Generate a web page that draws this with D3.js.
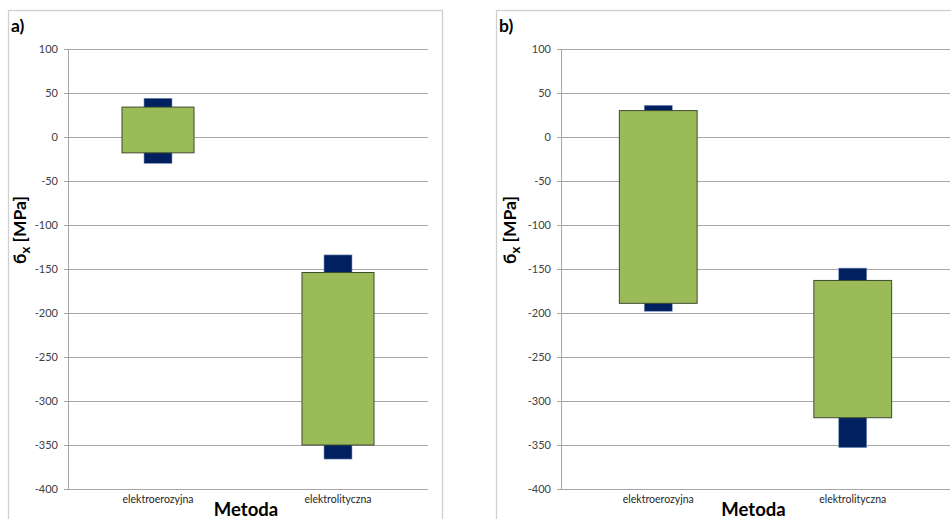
<!DOCTYPE html>
<html><head><meta charset="utf-8">
<script src="https://cdn.jsdelivr.net/npm/d3@7"></script>
<style>html,body{margin:0;padding:0;background:#fff;overflow:hidden}</style>
</head><body>
<svg id="c" width="951" height="519"></svg>
<script>
const categories = ["elektroerozyjna", "elektrolityczna"];
const yTicks = [100, 50, 0, -50, -100, -150, -200, -250, -300, -350, -400];
// panel a)
const aBoxLow = [-18, -350];
const aBoxHigh = [34, -154];
const aWhiskLow = [-30, -366];
const aWhiskHigh = [44, -134];
// panel b)
const bBoxLow = [-189, -319];
const bBoxHigh = [30, -163];
const bWhiskLow = [-198, -353];
const bWhiskHigh = [36, -149];

const panels = [
  {label: "a)", frame: [8, 10, 434, 530], axisX: 68, right: 428, titleX: 20,
   boxLow: aBoxLow, boxHigh: aBoxHigh, wLow: aWhiskLow, wHigh: aWhiskHigh},
  {label: "b)", frame: [496, 10, 480, 530], axisX: 561, right: 950, titleX: 510,
   boxLow: bBoxLow, boxHigh: bBoxHigh, wLow: bWhiskLow, wHigh: bWhiskHigh}
];

const svg = d3.select("#c");
const font = "Lato, 'Open Sans', sans-serif";
const y = d3.scaleLinear().domain([-400, 100]).range([489, 49]);

panels.forEach(p => {
  const g = svg.append("g");
  g.append("rect").attr("x", p.frame[0] + 0.5).attr("y", p.frame[1] + 0.5)
    .attr("width", p.frame[2]).attr("height", p.frame[3])
    .attr("fill", "#fff").attr("stroke", "#d0d0d0").attr("stroke-width", 1.3);
  g.append("text").attr("x", p.frame[0] + 3).attr("y", p.frame[1] + 22)
    .attr("font-family", font).attr("font-weight", "bold").attr("font-size", 17.5)
    .attr("fill", "#000").text(p.label);

  const x = d3.scaleBand().domain(categories).range([p.axisX, p.right]);
  const bw = x.bandwidth();

  // gridlines
  g.append("g").selectAll("line").data(yTicks).join("line")
    .attr("x1", p.axisX - 4).attr("x2", p.right)
    .attr("y1", d => Math.round(y(d)) + 0.5).attr("y2", d => Math.round(y(d)) + 0.5)
    .attr("stroke", "#a6a6a6").attr("stroke-width", 1);
  // y axis line
  g.append("line").attr("x1", p.axisX + 0.5).attr("x2", p.axisX + 0.5)
    .attr("y1", y(100)).attr("y2", y(-400) + 0.5)
    .attr("stroke", "#a6a6a6");
  // tick labels
  g.append("g").selectAll("text").data(yTicks).join("text")
    .attr("x", p.axisX - 10).attr("y", d => y(d) + 4)
    .attr("text-anchor", "end").attr("font-family", font).attr("font-size", 11)
    .attr("fill", "#404040").text(d => d);
  // category labels
  g.append("g").selectAll("text").data(categories).join("text")
    .attr("x", d => x(d) + bw / 2).attr("y", 503)
    .attr("text-anchor", "middle").attr("font-family", font).attr("font-size", 10.5)
    .attr("fill", "#262626").text(d => d);
  // x title
  g.append("text").attr("x", (p.axisX + p.right) / 2 - 2).attr("y", 516)
    .attr("text-anchor", "middle").attr("font-family", font).attr("font-weight", "bold")
    .attr("font-size", 18.5).attr("fill", "#000").text("Metoda");
  // y title
  const t = g.append("text").attr("transform", `translate(${p.titleX + 6},230) rotate(-90)`)
    .attr("text-anchor", "middle").attr("font-family", font).attr("font-weight", "bold")
    .attr("font-size", 17.5).attr("fill", "#000");
  t.append("tspan").text("б");
  t.append("tspan").attr("font-size", 13).attr("dy", 4).text("x");
  t.append("tspan").attr("dy", -4).text(" [MPa]");

  // whiskers (behind)
  const ww = 28;
  g.append("g").selectAll("rect").data(categories).join("rect")
    .attr("x", d => x(d) + bw / 2 - ww / 2)
    .attr("y", (d, i) => y(p.wHigh[i]))
    .attr("width", ww)
    .attr("height", (d, i) => y(p.wLow[i]) - y(p.wHigh[i]))
    .attr("fill", "#002060").attr("stroke", "#7f95c0").attr("stroke-width", 0.6);
  // boxes
  const boxW = bw * 0.4;
  g.append("g").selectAll("rect").data(categories).join("rect")
    .attr("x", d => x(d) + bw / 2 - boxW / 2)
    .attr("y", (d, i) => y(p.boxHigh[i]))
    .attr("width", boxW)
    .attr("height", (d, i) => y(p.boxLow[i]) - y(p.boxHigh[i]))
    .attr("fill", "#9bbb59").attr("stroke", "#3f4a30").attr("stroke-width", 1);
});
</script>
</body></html>
